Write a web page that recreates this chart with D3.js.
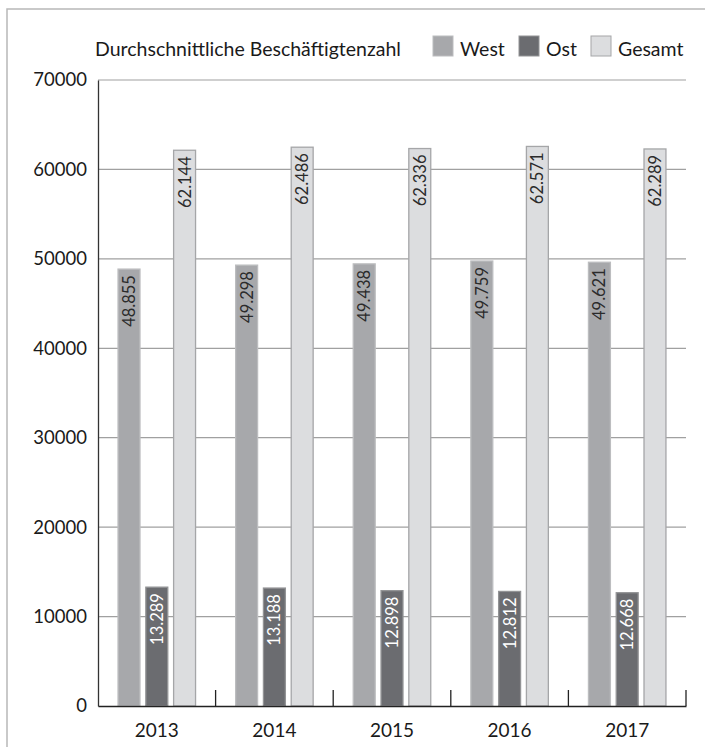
<!DOCTYPE html>
<html><head><meta charset="utf-8">
<script src="https://cdn.jsdelivr.net/npm/d3@7"></script>
<style>html,body{margin:0;padding:0;background:#fff;}svg{display:block;font-family:Lato,"Open Sans",sans-serif;}</style>
</head><body>
<svg id="c" width="705" height="747"></svg>
<script>
const years = ["2013","2014","2015","2016","2017"];
const seriesNames = ["West","Ost","Gesamt"];
const west = [48855,49298,49438,49759,49621];
const ost = [13289,13188,12898,12812,12668];
const gesamt = [62144,62486,62336,62571,62289];
const yTicks = [0,10000,20000,30000,40000,50000,60000,70000];
const title = "Durchschnittliche Beschäftigtenzahl";

const colors = {West:"#a7a8ab", Ost:"#6b6c70", Gesamt:"#dcdddf"};
const strokes = {West:"#bcbdbf", Ost:"#939496", Gesamt:"#a5a6a8"};
const labelColors = {West:"#2b2b2b", Ost:"#ffffff", Gesamt:"#2b2b2b"};
const values = {West:west, Ost:ost, Gesamt:gesamt};

const svg = d3.select("#c");
const L=98, R=686, T=80, B=706;

// outer frame
svg.append("path").attr("d","M7,747 V9 H705").attr("fill","none").attr("stroke","#b8b8b8").attr("stroke-width",1.5);

const x = d3.scaleBand().domain(years).range([L,R]).padding(0);
const GW = 77.5;
const x1 = d3.scaleBand().domain(seriesNames).range([0,GW]).paddingInner(0.21).paddingOuter(0);
const y = d3.scaleLinear().domain([0,70000]).range([B,T]);

// gridlines
svg.append("g").selectAll("line").data(yTicks.filter(d=>d>0)).join("line")
  .attr("x1",L).attr("x2",R).attr("y1",d=>y(d)).attr("y2",d=>y(d))
  .attr("stroke","#a0a0a0").attr("stroke-width",1.2);

// y axis
const ya = svg.append("g").attr("transform",`translate(${L},0)`)
  .call(d3.axisLeft(y).tickValues(yTicks).tickSize(0).tickPadding(11).tickFormat(d3.format("d")));
ya.select(".domain").attr("stroke","#333").attr("stroke-width",1.3);
ya.selectAll("text").attr("font-size",18.5).attr("fill","#1a1a1a").attr("font-family","Lato,sans-serif");

// bars
const fmt = v => d3.format(",")(v).replace(/,/g,".");
const groups = svg.append("g").selectAll("g").data(years).join("g")
  .attr("transform",d=>`translate(${x(d)+x.bandwidth()/2-GW/2},0)`);
seriesNames.forEach(s=>{
  groups.append("rect")
    .attr("x",x1(s)).attr("width",x1.bandwidth())
    .attr("y",(d,i)=>y(values[s][i])).attr("height",(d,i)=>B-y(values[s][i]))
    .attr("fill",colors[s]).attr("stroke",strokes[s]).attr("stroke-width",1.3);
  groups.append("text")
    .attr("transform",(d,i)=>`translate(${x1(s)+x1.bandwidth()/2+6},${y(values[s][i])+6}) rotate(-90)`)
    .attr("text-anchor","end").attr("font-size",16.5).attr("fill",labelColors[s])
    .text((d,i)=>fmt(values[s][i]));
});

// x axis
const xa = svg.append("g").attr("transform",`translate(0,${B})`)
  .call(d3.axisBottom(x).tickSize(0).tickPadding(18));
xa.select(".domain").attr("stroke","#222").attr("stroke-width",1.5);
xa.selectAll("text").attr("font-size",19).attr("fill","#1a1a1a").attr("font-family","Lato,sans-serif");
// category separator ticks (upward)
svg.append("g").selectAll("line").data(years).join("line")
  .attr("x1",d=>x(d)+x.bandwidth()).attr("x2",d=>x(d)+x.bandwidth())
  .attr("y1",B).attr("y2",B-16).attr("stroke","#222").attr("stroke-width",1.3);

// legend
svg.append("text").attr("x",95).attr("y",56).attr("font-size",19.5).attr("fill","#1a1a1a").text(title);
const legX = {West:433, Ost:519, Gesamt:591};
seriesNames.forEach(s=>{
  svg.append("rect").attr("x",legX[s]).attr("y",36).attr("width",20).attr("height",20)
    .attr("fill",colors[s]).attr("stroke",strokes[s]).attr("stroke-width",1);
  svg.append("text").attr("x",legX[s]+27).attr("y",56).attr("font-size",19.5).attr("fill","#1a1a1a").text(s);
});
</script>
</body></html>
